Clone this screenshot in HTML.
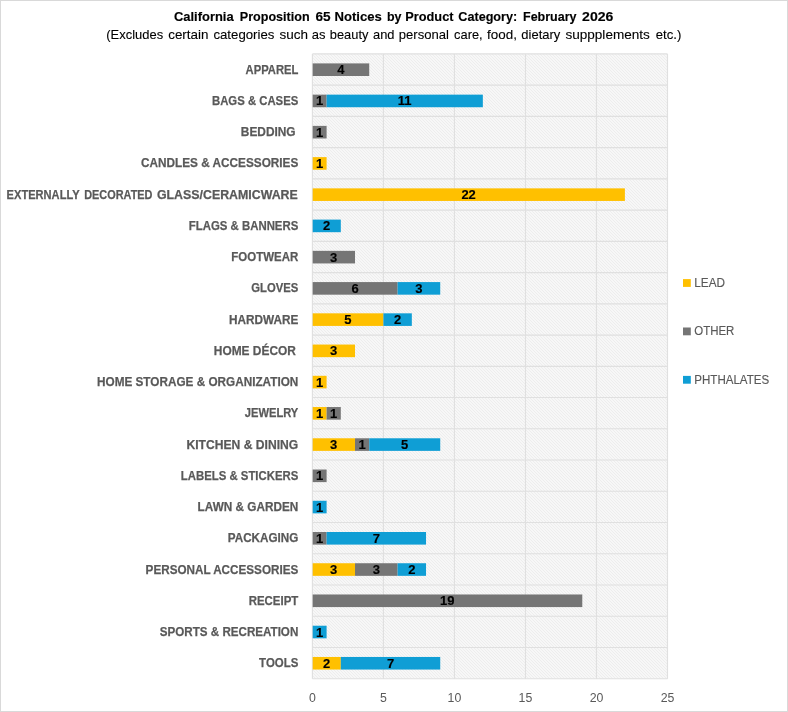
<!DOCTYPE html>
<html lang="en"><head><meta charset="utf-8"><title>California Proposition 65 Notices by Product Category: February 2026</title>
<style>
html,body{margin:0;padding:0;background:#fff;}
body{width:788px;height:712px;overflow:hidden;font-family:"Liberation Sans",sans-serif;}
svg{display:block;font-family:"Liberation Sans",sans-serif;}
.t{font-weight:bold;font-size:13.5px;fill:#000;stroke:#000;stroke-width:0.15px;}
.s{font-size:12.8px;fill:#000;stroke:#000;stroke-width:0.1px;}
.c{font-weight:bold;font-size:13.2px;fill:#595959;stroke:#595959;stroke-width:0.25px;}
.d{font-weight:bold;font-size:13px;fill:#000;text-anchor:middle;stroke:#000;stroke-width:0.15px;}
.a{font-size:12.3px;fill:#595959;text-anchor:middle;}
.l{font-size:12.3px;fill:#595959;stroke:#595959;stroke-width:0.15px;}
</style></head><body>
<svg width="788" height="712" viewBox="0 0 788 712">
<defs><pattern id="h" width="3" height="3" patternUnits="userSpaceOnUse"><rect width="3" height="3" fill="#fbfbfb"/><path d="M-1 -1L4 4M-1 2L2 5M2 -1L5 2" stroke="#ededed" stroke-width="1.06" fill="none"/></pattern></defs>
<rect x="0" y="0" width="788" height="712" fill="#fff"/>
<rect x="0.5" y="0.5" width="787" height="711" fill="none" stroke="#d9d9d9" stroke-width="1"/>
<rect x="312.4" y="53.9" width="355.10" height="624.80" fill="url(#h)"/>
<path d="M312.40 53.9V678.70M383.42 53.9V678.70M454.44 53.9V678.70M525.46 53.9V678.70M596.48 53.9V678.70M667.50 53.9V678.70M312.4 53.90H667.5M312.4 85.14H667.5M312.4 116.38H667.5M312.4 147.62H667.5M312.4 178.86H667.5M312.4 210.10H667.5M312.4 241.34H667.5M312.4 272.58H667.5M312.4 303.82H667.5M312.4 335.06H667.5M312.4 366.30H667.5M312.4 397.54H667.5M312.4 428.78H667.5M312.4 460.02H667.5M312.4 491.26H667.5M312.4 522.50H667.5M312.4 553.74H667.5M312.4 584.98H667.5M312.4 616.22H667.5M312.4 647.46H667.5M312.4 678.70H667.5" stroke="#e0e0e0" stroke-width="1.15" fill="none"/>
<text class="t" y="21.1"><tspan x="174.0" textLength="59.6" lengthAdjust="spacingAndGlyphs">California</tspan> <tspan x="239.8" textLength="69.8" lengthAdjust="spacingAndGlyphs">Proposition</tspan> <tspan x="315.5" textLength="15.2" lengthAdjust="spacingAndGlyphs">65</tspan> <tspan x="334.5" textLength="47.3" lengthAdjust="spacingAndGlyphs">Notices</tspan> <tspan x="386.9" textLength="14.5" lengthAdjust="spacingAndGlyphs">by</tspan> <tspan x="405.3" textLength="48.2" lengthAdjust="spacingAndGlyphs">Product</tspan> <tspan x="458.3" textLength="58.9" lengthAdjust="spacingAndGlyphs">Category:</tspan> <tspan x="523.0" textLength="53.5" lengthAdjust="spacingAndGlyphs">February</tspan> <tspan x="582.1" textLength="31.3" lengthAdjust="spacingAndGlyphs">2026</tspan></text>
<text class="s" y="38.9"><tspan x="106.3" textLength="56.8" lengthAdjust="spacingAndGlyphs">(Excludes</tspan> <tspan x="168.2" textLength="40.3" lengthAdjust="spacingAndGlyphs">certain</tspan> <tspan x="213.4" textLength="61.0" lengthAdjust="spacingAndGlyphs">categories</tspan> <tspan x="279.4" textLength="28.5" lengthAdjust="spacingAndGlyphs">such</tspan> <tspan x="311.7" textLength="13.7" lengthAdjust="spacingAndGlyphs">as</tspan> <tspan x="329.8" textLength="38.6" lengthAdjust="spacingAndGlyphs">beauty</tspan> <tspan x="373.0" textLength="21.5" lengthAdjust="spacingAndGlyphs">and</tspan> <tspan x="398.8" textLength="50.2" lengthAdjust="spacingAndGlyphs">personal</tspan> <tspan x="454.1" textLength="28.5" lengthAdjust="spacingAndGlyphs">care,</tspan> <tspan x="487.0" textLength="29.9" lengthAdjust="spacingAndGlyphs">food,</tspan> <tspan x="521.3" textLength="39.0" lengthAdjust="spacingAndGlyphs">dietary</tspan> <tspan x="565.4" textLength="84.5" lengthAdjust="spacingAndGlyphs">suppplements</tspan> <tspan x="655.7" textLength="25.6" lengthAdjust="spacingAndGlyphs">etc.)</tspan></text>
<text class="c" x="245.6" y="73.72" textLength="52.7" lengthAdjust="spacingAndGlyphs">APPAREL</text>
<rect x="312.70" y="63.40" width="56.52" height="12.6" fill="#757575"/>
<text class="d" x="340.81" y="74.22">4</text>
<text class="c" x="212.0" y="104.96" textLength="86.3" lengthAdjust="spacingAndGlyphs">BAGS &amp; CASES</text>
<rect x="312.70" y="94.64" width="13.90" height="12.6" fill="#757575"/>
<text class="d" x="319.50" y="105.46">1</text>
<rect x="326.60" y="94.64" width="156.24" height="12.6" fill="#0F9ED5"/>
<text class="d" x="404.73" y="105.46">11</text>
<text class="c" x="240.8" y="136.20" textLength="54.8" lengthAdjust="spacingAndGlyphs">BEDDING</text>
<rect x="312.70" y="125.88" width="13.90" height="12.6" fill="#757575"/>
<text class="d" x="319.50" y="136.70">1</text>
<text class="c" x="141.0" y="167.44" textLength="157.3" lengthAdjust="spacingAndGlyphs">CANDLES &amp; ACCESSORIES</text>
<rect x="312.70" y="157.12" width="13.90" height="12.6" fill="#FFC000"/>
<text class="d" x="319.50" y="167.94">1</text>
<text class="c" y="198.68"><tspan x="6.6" textLength="72.8" lengthAdjust="spacingAndGlyphs">EXTERNALLY</tspan> <tspan x="84.2" textLength="68.3" lengthAdjust="spacingAndGlyphs">DECORATED</tspan> <tspan x="156.9" textLength="140.9" lengthAdjust="spacingAndGlyphs">GLASS/CERAMICWARE</tspan></text>
<rect x="312.70" y="188.36" width="312.19" height="12.6" fill="#FFC000"/>
<text class="d" x="468.64" y="199.18">22</text>
<text class="c" x="188.8" y="229.92" textLength="109.5" lengthAdjust="spacingAndGlyphs">FLAGS &amp; BANNERS</text>
<rect x="312.70" y="219.60" width="28.11" height="12.6" fill="#0F9ED5"/>
<text class="d" x="326.60" y="230.42">2</text>
<text class="c" x="231.3" y="261.16" textLength="67.0" lengthAdjust="spacingAndGlyphs">FOOTWEAR</text>
<rect x="312.70" y="250.84" width="42.31" height="12.6" fill="#757575"/>
<text class="d" x="333.71" y="261.66">3</text>
<text class="c" x="251.3" y="292.40" textLength="47.0" lengthAdjust="spacingAndGlyphs">GLOVES</text>
<rect x="312.70" y="282.08" width="84.92" height="12.6" fill="#757575"/>
<text class="d" x="355.01" y="292.90">6</text>
<rect x="397.62" y="282.08" width="42.61" height="12.6" fill="#0F9ED5"/>
<text class="d" x="418.93" y="292.90">3</text>
<text class="c" x="228.9" y="323.64" textLength="69.4" lengthAdjust="spacingAndGlyphs">HARDWARE</text>
<rect x="312.70" y="313.32" width="70.72" height="12.6" fill="#FFC000"/>
<text class="d" x="347.91" y="324.14">5</text>
<rect x="383.42" y="313.32" width="28.41" height="12.6" fill="#0F9ED5"/>
<text class="d" x="397.62" y="324.14">2</text>
<text class="c" x="213.8" y="354.88" textLength="82.1" lengthAdjust="spacingAndGlyphs">HOME DÉCOR</text>
<rect x="312.70" y="344.56" width="42.31" height="12.6" fill="#FFC000"/>
<text class="d" x="333.71" y="355.38">3</text>
<text class="c" x="97.0" y="386.12" textLength="201.3" lengthAdjust="spacingAndGlyphs">HOME STORAGE &amp; ORGANIZATION</text>
<rect x="312.70" y="375.80" width="13.90" height="12.6" fill="#FFC000"/>
<text class="d" x="319.50" y="386.62">1</text>
<text class="c" x="244.8" y="417.36" textLength="53.5" lengthAdjust="spacingAndGlyphs">JEWELRY</text>
<rect x="312.70" y="407.04" width="13.90" height="12.6" fill="#FFC000"/>
<text class="d" x="319.50" y="417.86">1</text>
<rect x="326.60" y="407.04" width="14.20" height="12.6" fill="#757575"/>
<text class="d" x="333.71" y="417.86">1</text>
<text class="c" x="186.5" y="448.60" textLength="111.8" lengthAdjust="spacingAndGlyphs">KITCHEN &amp; DINING</text>
<rect x="312.70" y="438.28" width="42.31" height="12.6" fill="#FFC000"/>
<text class="d" x="333.71" y="449.10">3</text>
<rect x="355.01" y="438.28" width="14.20" height="12.6" fill="#757575"/>
<text class="d" x="362.11" y="449.10">1</text>
<rect x="369.22" y="438.28" width="71.02" height="12.6" fill="#0F9ED5"/>
<text class="d" x="404.73" y="449.10">5</text>
<text class="c" x="180.8" y="479.84" textLength="117.5" lengthAdjust="spacingAndGlyphs">LABELS &amp; STICKERS</text>
<rect x="312.70" y="469.52" width="13.90" height="12.6" fill="#757575"/>
<text class="d" x="319.50" y="480.34">1</text>
<text class="c" x="197.6" y="511.08" textLength="100.7" lengthAdjust="spacingAndGlyphs">LAWN &amp; GARDEN</text>
<rect x="312.70" y="500.76" width="13.90" height="12.6" fill="#0F9ED5"/>
<text class="d" x="319.50" y="511.58">1</text>
<text class="c" x="227.8" y="542.32" textLength="70.5" lengthAdjust="spacingAndGlyphs">PACKAGING</text>
<rect x="312.70" y="532.00" width="13.90" height="12.6" fill="#757575"/>
<text class="d" x="319.50" y="542.82">1</text>
<rect x="326.60" y="532.00" width="99.43" height="12.6" fill="#0F9ED5"/>
<text class="d" x="376.32" y="542.82">7</text>
<text class="c" x="145.6" y="573.56" textLength="152.7" lengthAdjust="spacingAndGlyphs">PERSONAL ACCESSORIES</text>
<rect x="312.70" y="563.24" width="42.31" height="12.6" fill="#FFC000"/>
<text class="d" x="333.71" y="574.06">3</text>
<rect x="355.01" y="563.24" width="42.61" height="12.6" fill="#757575"/>
<text class="d" x="376.32" y="574.06">3</text>
<rect x="397.62" y="563.24" width="28.41" height="12.6" fill="#0F9ED5"/>
<text class="d" x="411.83" y="574.06">2</text>
<text class="c" x="248.7" y="604.80" textLength="49.6" lengthAdjust="spacingAndGlyphs">RECEIPT</text>
<rect x="312.70" y="594.48" width="269.58" height="12.6" fill="#757575"/>
<text class="d" x="447.34" y="605.30">19</text>
<text class="c" x="159.8" y="636.04" textLength="138.5" lengthAdjust="spacingAndGlyphs">SPORTS &amp; RECREATION</text>
<rect x="312.70" y="625.72" width="13.90" height="12.6" fill="#0F9ED5"/>
<text class="d" x="319.50" y="636.54">1</text>
<text class="c" x="259.1" y="667.28" textLength="39.2" lengthAdjust="spacingAndGlyphs">TOOLS</text>
<rect x="312.70" y="656.96" width="28.11" height="12.6" fill="#FFC000"/>
<text class="d" x="326.60" y="667.78">2</text>
<rect x="340.81" y="656.96" width="99.43" height="12.6" fill="#0F9ED5"/>
<text class="d" x="390.52" y="667.78">7</text>
<text class="a" x="312.40" y="701.9">0</text>
<text class="a" x="383.42" y="701.9">5</text>
<text class="a" x="454.44" y="701.9">10</text>
<text class="a" x="525.46" y="701.9">15</text>
<text class="a" x="596.48" y="701.9">20</text>
<text class="a" x="667.50" y="701.9">25</text>
<rect x="683" y="279.10" width="7.8" height="7.8" fill="#FFC000"/>
<text class="l" x="694.3" y="286.90" textLength="30.7" lengthAdjust="spacingAndGlyphs">LEAD</text>
<rect x="683" y="327.50" width="7.8" height="7.8" fill="#757575"/>
<text class="l" x="694.3" y="335.30" textLength="40.1" lengthAdjust="spacingAndGlyphs">OTHER</text>
<rect x="683" y="375.90" width="7.8" height="7.8" fill="#0F9ED5"/>
<text class="l" x="694.3" y="383.70" textLength="74.9" lengthAdjust="spacingAndGlyphs">PHTHALATES</text>
</svg></body></html>
